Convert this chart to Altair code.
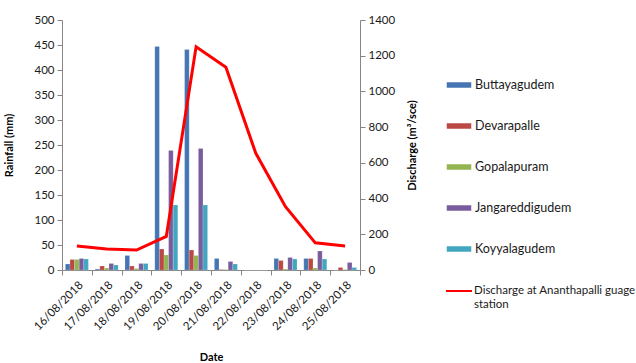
import altair as alt
import pandas as pd

# Daily rainfall at five stations and river discharge, August 2018
dates = ["16/08/2018", "17/08/2018", "18/08/2018", "19/08/2018", "20/08/2018",
         "21/08/2018", "22/08/2018", "23/08/2018", "24/08/2018", "25/08/2018"]
stations = ["Buttayagudem", "Devarapalle", "Gopalapuram", "Jangareddigudem", "Koyyalagudem"]
buttayagudem = [12, 2, 29, 447, 441, 23, 0, 23, 23, 0]
devarapalle = [21, 8, 8, 42, 40, 1, 0, 19, 23, 5]
gopalapuram = [21, 4, 3, 30, 29, 1, 0, 2, 4, 1]
jangareddigudem = [23, 13, 13, 239, 243, 17, 0, 25, 38, 15]
koyyalagudem = [22, 10, 13, 130, 130, 12, 0, 22, 22, 5]
discharge = [134, 117, 112, 188, 1250, 1135, 655, 355, 152, 135]
line_name = "Discharge at Ananthapalli guage station"

colors = ["#4576B3", "#BA4845", "#93B450", "#795C9C", "#43A6C0"]

series = [buttayagudem, devarapalle, gopalapuram, jangareddigudem, koyyalagudem]
rain = pd.DataFrame(
    [{"date": d, "station": s, "rainfall": vals[i]}
     for s, vals in zip(stations, series) for i, d in enumerate(dates)]
)
flow = pd.DataFrame({"date": dates, "discharge": discharge, "series": line_name})

FONT = "Lato"
AXIS_GREY = "#868686"

x_enc = alt.X(
    "date:N", sort=dates,
    scale=alt.Scale(paddingInner=0, paddingOuter=0),
    axis=alt.Axis(
        title="Date", labelAngle=-45, tickBand="extent", labelFontSize=11.5,
        titleY=87, titleBaseline="middle", labelPadding=4, tickSize=5,
    ),
)

bars = alt.Chart(rain).mark_bar(stroke="#ffffff", strokeWidth=0.3, strokeOpacity=0.6).encode(
    x=x_enc,
    xOffset=alt.XOffset("station:N", sort=stations,
                        scale=alt.Scale(paddingInner=0, paddingOuter=0.74)),
    y=alt.Y(
        "rainfall:Q",
        scale=alt.Scale(domain=[0, 500], nice=False),
        axis=alt.Axis(title="Rainfall (mm)", values=list(range(0, 501, 50)),
                      titleX=-48, tickSize=5, labelPadding=3),
    ),
    fill=alt.Fill(
        "station:N", sort=stations,
        scale=alt.Scale(domain=stations, range=colors),
        legend=alt.Legend(
            title=None, orient="none", legendX=383, legendY=51,
            symbolType="M-1,-0.27H1V0.27H-1Z", symbolSize=676,
            rowPadding=20, labelFontSize=12.5, labelOffset=2,
        ),
    ),
)

line = alt.Chart(flow).mark_line(strokeWidth=3).encode(
    x=x_enc,
    y=alt.Y(
        "discharge:Q",
        scale=alt.Scale(domain=[0, 1400], nice=False),
        axis=alt.Axis(orient="right", title="Discharge (m³/sce)", format="d",
                      values=list(range(0, 1401, 200)), titleX=57, titleAngle=270,
                      tickSize=5, labelPadding=3),
    ),
    stroke=alt.Stroke(
        "series:N",
        scale=alt.Scale(domain=[line_name], range=["#FF0000"]),
        legend=alt.Legend(
            title=None, orient="none", legendX=383, legendY=257,
            symbolType="stroke", symbolSize=676, symbolStrokeWidth=2,
            labelFontSize=11.5, labelOffset=1, labelBaseline="middle",
            labelExpr="split(datum.label, ' station')[0] == datum.label ? datum.label : [split(datum.label, ' station')[0], 'station']",
            labelLimit=300,
        ),
    ),
)

chart = (
    alt.layer(bars, line)
    .resolve_scale(y="independent")
    .properties(
        width=298, height=250,
        autosize=alt.AutoSizeParams(type="none"),
        padding={"left": 62, "top": 20, "right": 276, "bottom": 93},
    )
    .configure_view(stroke=None)
    .configure_axis(
        grid=False, domainColor=AXIS_GREY, tickColor=AXIS_GREY,
        labelFont=FONT, labelFontSize=11.5, labelColor="#1a1a1a",
        titleFont=FONT, titleFontSize=11, titleFontWeight="bold", titleColor="#000000",
    )
    .configure_legend(labelFont=FONT, labelColor="#1a1a1a")
)

chart.save("out.html", embed_options={"renderer": "svg", "actions": False})
